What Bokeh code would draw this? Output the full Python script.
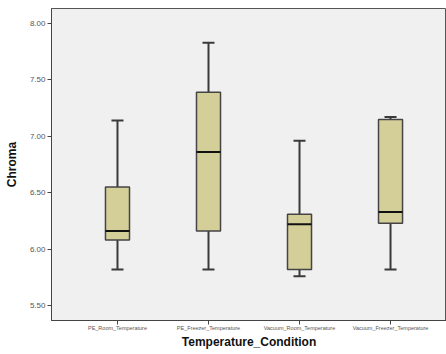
from bokeh.plotting import figure
from bokeh.models import ColumnDataSource, FixedTicker, NumeralTickFormatter, Range1d
from bokeh.embed import file_html
from bokeh.resources import INLINE

categories = ["PE_Room_Temperature", "PE_Freezer_Temperature",
              "Vacuum_Room_Temperature", "Vacuum_Freezer_Temperature"]
lower_whisker = [5.82, 5.82, 5.76, 5.82]
q1 = [6.08, 6.16, 5.82, 6.23]
median = [6.16, 6.86, 6.22, 6.33]
q3 = [6.55, 7.39, 6.31, 7.15]
upper_whisker = [7.14, 7.83, 6.96, 7.17]
y_ticks = [5.5, 6.0, 6.5, 7.0, 7.5, 8.0]

xs = [1, 2, 3, 4]
box_w = 0.264
cap_w = 0.066

src = ColumnDataSource(dict(
    x=xs, lo=lower_whisker, q1=q1, med=median, q3=q3, hi=upper_whisker,
    xl=[x - box_w / 2 for x in xs], xr=[x + box_w / 2 for x in xs],
    cl=[x - cap_w for x in xs], cr=[x + cap_w for x in xs],
))

p = figure(width=446, height=354, output_backend="svg", toolbar_location=None,
           x_range=Range1d(0.275, 4.615), y_range=Range1d(5.367, 8.133),
           min_border_left=51, min_border_right=0, min_border_top=8,
           min_border_bottom=34)
p.background_fill_color = "#F0F0F0"
p.border_fill_color = "white"
p.outline_line_color = "#555555"
p.outline_line_width = 1
p.xgrid.visible = False
p.ygrid.visible = False

# whiskers
p.segment(x0="x", y0="q3", x1="x", y1="hi", source=src, line_color="#3a3a3a", line_width=2)
p.segment(x0="x", y0="lo", x1="x", y1="q1", source=src, line_color="#3a3a3a", line_width=2)
p.segment(x0="cl", y0="hi", x1="cr", y1="hi", source=src, line_color="#3a3a3a", line_width=2)
p.segment(x0="cl", y0="lo", x1="cr", y1="lo", source=src, line_color="#3a3a3a", line_width=2)
# boxes
p.vbar(x="x", width=box_w, bottom="q1", top="q3", source=src,
       fill_color="#D4CF98", line_color="#444444", line_width=1.5)
p.segment(x0="xl", y0="med", x1="xr", y1="med", source=src, line_color="#111111", line_width=2)

# axes
p.xaxis.ticker = FixedTicker(ticks=xs)
p.xaxis.major_label_overrides = {x: c for x, c in zip(xs, categories)}
p.yaxis.ticker = FixedTicker(ticks=y_ticks)
p.yaxis.formatter = NumeralTickFormatter(format="0.00")
for ax in (p.xaxis[0], p.yaxis[0]):
    ax.minor_tick_line_color = None
    ax.major_tick_in = 0
    ax.major_tick_out = 4
    ax.axis_line_color = "#444444"
    ax.major_tick_line_color = "#444444"
    ax.major_label_text_font = "Liberation Sans"
    ax.major_label_text_color = "#555555"
    ax.axis_label_text_font = "Liberation Sans"
    ax.axis_label_text_font_style = "bold"
    ax.axis_label_text_font_size = "12px"
    ax.axis_label_text_color = "#111111"
p.xaxis.major_label_text_font_size = "5.5px"
p.yaxis.major_label_text_font_size = "8px"
p.xaxis.major_label_standoff = 0
p.yaxis.major_label_standoff = 2
p.xaxis.axis_label = "Temperature_Condition"
p.yaxis.axis_label = "Chroma"
p.xaxis.axis_label_standoff = 1
p.yaxis.axis_label_standoff = 8

open("out.html", "w").write(file_html(p, INLINE))
